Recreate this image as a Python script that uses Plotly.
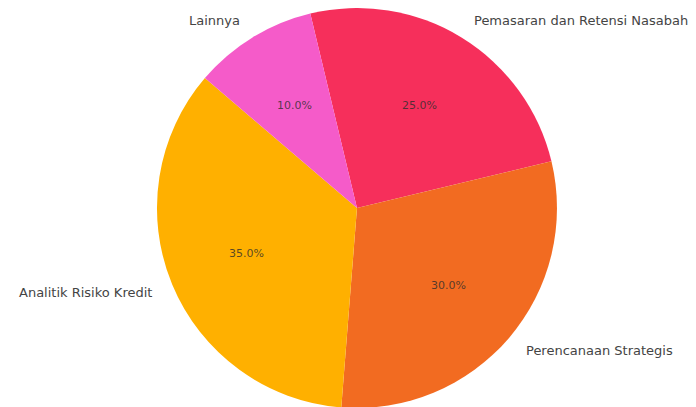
import numpy as np
import plotly.graph_objects as go

labels = ["Pemasaran dan Retensi Nasabah", "Perencanaan Strategis", "Analitik Risiko Kredit", "Lainnya"]
values = [25, 30, 35, 10]
colors = ["#F62F5B", "#F26B21", "#FFB000", "#F55BC9"]
start_angle = -13.5  # degrees, clockwise from 12 o'clock

W, H = 696, 407
dom_x = [0.2014, 0.8014]
dom_y = [0.0172, 1.0]

fig = go.Figure(go.Pie(
    labels=labels, values=values, sort=False, direction="clockwise",
    rotation=start_angle, marker=dict(colors=colors, line=dict(width=0)),
    textinfo="none", hoverinfo="label+percent", showlegend=False,
    domain=dict(x=dom_x, y=dom_y),
))

# geometry of pie in pixels (derived from domain)
cx = (dom_x[0] + dom_x[1]) / 2 * W
cy = (1 - (dom_y[0] + dom_y[1]) / 2) * H
R = min((dom_x[1] - dom_x[0]) * W, (dom_y[1] - dom_y[0]) * H) / 2

vals = np.array(values, dtype=float)
frac = vals / vals.sum()
ends = start_angle + np.cumsum(frac) * 360
mids = ends - frac * 360 / 2

annotations = []
for lab, f, m in zip(labels, frac, mids):
    a = np.deg2rad(m)
    s, c = np.sin(a), np.cos(a)
    px, py = cx + 0.6 * R * s, cy - 0.6 * R * c
    annotations.append(dict(
        x=px / W, y=1 - py / H, xref="paper", yref="paper",
        text=f"{f*100:.1f}%", showarrow=False, xanchor="center", yanchor="middle",
        font=dict(family="DejaVu Sans", size=11, color="rgba(45,45,45,0.8)")))
    lx, ly = cx + 1.1 * R * s, cy - 1.1 * R * c
    annotations.append(dict(
        x=lx / W, y=1 - ly / H, xref="paper", yref="paper",
        text=lab, showarrow=False, xanchor="left" if s > 0 else "right", yanchor="middle",
        font=dict(family="DejaVu Sans", size=13, color="#444444")))

fig.update_layout(
    width=W, height=H, margin=dict(l=0, r=0, t=0, b=0),
    paper_bgcolor="white", plot_bgcolor="white",
    annotations=annotations,
)

fig.write_html("out.html")
